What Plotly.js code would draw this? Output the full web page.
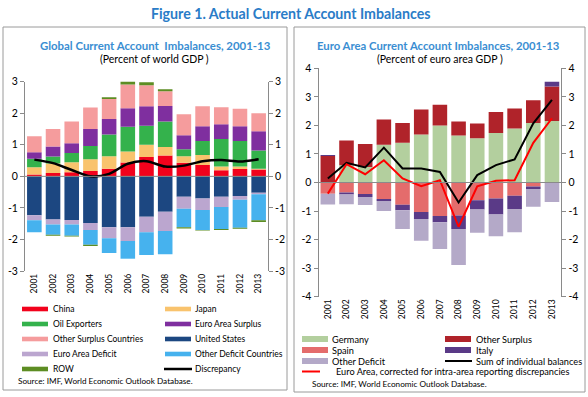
<!DOCTYPE html>
<html><head><meta charset="utf-8">
<script src="https://cdn.plot.ly/plotly-3.0.1.min.js"></script>
<style>html,body{margin:0;padding:0;background:#fff}#c{width:588px;height:397px}</style>
</head><body><div id="c"></div>
<script>
// ---------- DATA ----------
const years = ['2001','2002','2003','2004','2005','2006','2007','2008','2009','2010','2011','2012','2013'];

// Left panel: Global current account imbalances (% of world GDP)
const china        = [0.06,0.11,0.13,0.17,0.24,0.44,0.61,0.66,0.43,0.36,0.19,0.23,0.22];
const japan        = [0.23,0.30,0.32,0.37,0.40,0.35,0.39,0.27,0.21,0.32,0.12,0.08,0.02];
const oilExporters = [0.27,0.22,0.29,0.42,0.69,0.78,0.60,0.81,0.22,0.44,0.87,0.81,0.58];
const euroSurplus  = [0.20,0.32,0.31,0.54,0.49,0.59,0.62,0.49,0.44,0.47,0.47,0.47,0.61];
const otherSurplus = [0.51,0.55,0.69,0.68,0.63,0.75,0.67,0.47,0.67,0.63,0.54,0.55,0.57];
const unitedStates = [-1.23,-1.37,-1.38,-1.48,-1.61,-1.61,-1.28,-1.12,-0.65,-0.70,-0.65,-0.62,-0.52];
const euroDeficit  = [-0.16,-0.16,-0.15,-0.22,-0.35,-0.44,-0.49,-0.61,-0.38,-0.37,-0.32,-0.12,-0.05];
const otherDeficit = [-0.38,-0.32,-0.35,-0.47,-0.47,-0.56,-0.72,-0.74,-0.58,-0.63,-0.70,-0.89,-0.82];
const rowBalance   = [0.00,-0.03,-0.03,-0.04,0.06,0.12,0.09,0.06,-0.04,-0.02,-0.03,-0.03,-0.06];
const discrepancy  = [0.53,0.42,0.20,0.00,0.08,0.40,0.48,0.31,0.34,0.48,0.52,0.47,0.54];

// Right panel: Euro area current account imbalances (% of euro area GDP)
const germany       = [0.00,0.60,0.54,1.32,1.39,1.68,2.00,1.65,1.55,1.73,1.89,2.08,2.15];
const spain         = [-0.39,-0.35,-0.40,-0.58,-0.78,-1.03,-1.17,-1.16,-0.62,-0.56,-0.46,-0.14,0.00];
const eaOtherSurplus= [0.93,0.87,0.81,0.89,0.69,0.88,0.72,0.49,0.52,0.74,0.70,0.80,1.21];
const italy         = [0.03,-0.07,-0.11,-0.07,-0.19,-0.25,-0.22,-0.47,-0.33,-0.56,-0.47,-0.09,0.17];
const eaOtherDeficit= [-0.38,-0.34,-0.28,-0.35,-0.66,-0.76,-0.94,-1.26,-0.81,-0.76,-0.81,-0.62,-0.68];
const sumBalances   = [0.14,0.69,0.53,1.22,0.49,0.49,0.37,-0.70,0.26,0.61,0.81,2.07,2.89];
const corrected     = [-0.39,0.64,0.29,0.78,0.14,-0.13,0.08,-1.55,-0.13,0.06,0.08,1.39,2.25];

const leftNames  = ['China','Japan','Oil Exporters','Euro Area Surplus','Other Surplus Countries','United States','Euro Area Deficit','Other Deficit Countries','ROW','Discrepancy'];
const rightNames = ['Germany','Other Surplus','Spain','Italy','Other Deficit','Sum of individual balances','Euro Area, corrected for intra-area reporting discrepancies'];

const leftTicks  = [-3,-2,-1,0,1,2,3];
const rightTicks = [-4,-3,-2,-1,0,1,2,3,4];

// ---------- STYLE ----------
const FONT = 'Lato, "Open Sans", sans-serif';
const W = 588, H = 397;
const px = x => x / W, py = y => 1 - y / H;
const C = {
  China:'#f2021c', Japan:'#f9c36d', Oil:'#34b24c', EAS:'#7f2f9f', OS:'#f59c9d',
  US:'#1c4781', EAD:'#bba6cf', ODC:'#46b2ee', ROW:'#5d8d23',
  Germany:'#b3cf9e', EOS:'#b0232a', Spain:'#e46c6c', Italy:'#5a3a87', EOD:'#b4a9c8'
};

function bar(y, name, color, xa, ya){
  return {type:'bar', x:years, y:y, name:name, xaxis:xa, yaxis:ya,
          marker:{color:color, line:{width:0}}, showlegend:false, hoverinfo:'y+name'};
}
const traces = [
  bar(china, leftNames[0], C.China,'x','y'),
  bar(japan, leftNames[1], C.Japan,'x','y'),
  bar(oilExporters, leftNames[2], C.Oil,'x','y'),
  bar(euroSurplus, leftNames[3], C.EAS,'x','y'),
  bar(otherSurplus, leftNames[4], C.OS,'x','y'),
  bar(unitedStates, leftNames[5], C.US,'x','y'),
  bar(euroDeficit, leftNames[6], C.EAD,'x','y'),
  bar(otherDeficit, leftNames[7], C.ODC,'x','y'),
  bar(rowBalance, leftNames[8], C.ROW,'x','y'),
  {type:'scatter', mode:'lines', x:years, y:discrepancy, name:leftNames[9], xaxis:'x', yaxis:'y3',
   line:{color:'#000', width:2.5, shape:'spline', smoothing:0.8}, showlegend:false},
  bar(germany, rightNames[0], C.Germany,'x2','y2'),
  bar(spain, rightNames[2], C.Spain,'x2','y2'),
  bar(eaOtherSurplus, rightNames[1], C.EOS,'x2','y2'),
  bar(italy, rightNames[3], C.Italy,'x2','y2'),
  bar(eaOtherDeficit, rightNames[4], C.EOD,'x2','y2'),
  {type:'scatter', mode:'lines', x:years, y:sumBalances, name:rightNames[5], xaxis:'x2', yaxis:'y4',
   line:{color:'#000', width:2}, showlegend:false},
  {type:'scatter', mode:'lines', x:years, y:corrected, name:rightNames[6], xaxis:'x2', yaxis:'y4',
   line:{color:'#ff0000', width:2}, showlegend:false}
];

const tickFont = {family:FONT, size:10.5, color:'#000'};
const xBase = {type:'category', showline:false, ticks:'', showgrid:false, zeroline:false,
  tickangle:-90, tickfont:{family:FONT, size:8.5, color:'#000'}, fixedrange:true};
function yAx(range, ticks, extra){
  return Object.assign({range:range, tickvals:ticks, ticktext:ticks.map(String), showgrid:false,
    zeroline:false, showline:true, linecolor:'#8a8a8a', linewidth:1, ticks:'outside', ticklen:4,
    tickcolor:'#8a8a8a', tickfont:tickFont, fixedrange:true}, extra);
}

const L = {x0:25, x1:268, y0:81.7, y1:271};
const R = {x0:318.5, x1:561.3, y0:68.3, y1:296.7};

const shapes = [
  // panel boxes
  {type:'rect', xref:'paper', yref:'paper', x0:px(3), x1:px(287), y0:py(390), y1:py(27), line:{color:'#9a9a9a', width:1}},
  {type:'rect', xref:'paper', yref:'paper', x0:px(294), x1:px(585), y0:py(392), y1:py(27), line:{color:'#9a9a9a', width:1}},
  // zero lines
  {type:'line', xref:'x domain', yref:'y', x0:0, x1:1, y0:0, y1:0, line:{color:'#8a8a8a', width:1}, layer:'above'},
  {type:'line', xref:'x2 domain', yref:'y2', x0:0, x1:1, y0:0, y1:0, line:{color:'#8a8a8a', width:1}, layer:'above'}
];
const annotations = [
  {text:'<b>Figure 1. Actual Current Account Imbalances</b>', x:px(290), y:py(13), font:{family:FONT, size:14.2, color:'#2a7cc7'}},
  {text:'<b>Global Current Account  Imbalances, 2001-13</b>', x:px(155), y:py(45), font:{family:FONT, size:11.4, color:'#3a8ed2'}},
  {text:'(Percent of world GDP )', x:px(154), y:py(59), font:{family:FONT, size:10.5, color:'#000'}},
  {text:'<b>Euro Area Current Account Imbalances, 2001-13</b>', x:px(438), y:py(45), font:{family:FONT, size:11.3, color:'#3a8ed2'}},
  {text:'(Percent of euro area GDP )', x:px(440), y:py(59), font:{family:FONT, size:10.5, color:'#000'}},
  {text:'Source: IMF, World Economic Outlook Database.', x:px(16), y:py(381), xanchor:'left', font:{family:FONT, size:8.2, color:'#000'}},
  {text:'Source: IMF, World Economic Outlook Database.', x:px(310), y:py(384), xanchor:'left', font:{family:FONT, size:8.2, color:'#000'}}
].map(a => Object.assign({xref:'paper', yref:'paper', showarrow:false, xanchor:'center', yanchor:'middle'}, a));

// left legend (manual)
const leftLegend = [
  [leftNames[0], C.China, 0, 309], [leftNames[1], C.Japan, 1, 309],
  [leftNames[2], C.Oil, 0, 324],   [leftNames[3], C.EAS, 1, 324],
  [leftNames[4], C.OS, 0, 339],    [leftNames[5], C.US, 1, 339],
  [leftNames[6], C.EAD, 0, 354],   [leftNames[7], C.ODC, 1, 354],
  [leftNames[8], C.ROW, 0, 369],   [leftNames[9], '#000', 1, 369, true]
];
leftLegend.forEach(([name, col, c, y, isLine]) => {
  const sx = c ? 165 : 22, tx = c ? 193 : 51;
  if (isLine) shapes.push({type:'line', xref:'paper', yref:'paper', x0:px(164), x1:px(192), y0:py(y), y1:py(y), line:{color:'#000', width:2.5}});
  else shapes.push({type:'rect', xref:'paper', yref:'paper', x0:px(sx), x1:px(sx+26), y0:py(y+2.3), y1:py(y-2.3), fillcolor:col, line:{width:0}});
  annotations.push({xref:'paper', yref:'paper', showarrow:false, text:name, x:px(tx), y:py(y), xanchor:'left', yanchor:'middle', font:{family:FONT, size:8.5, color:'#000'}});
});
// right legend (manual)
const rightLegend = [
  [rightNames[0], C.Germany, 0, 339], [rightNames[1], C.EOS, 1, 339],
  [rightNames[2], C.Spain, 0, 350],   [rightNames[3], C.Italy, 1, 350],
  [rightNames[4], C.EOD, 0, 361],     [rightNames[5], '#000', 1, 361, 'line'],
  [rightNames[6], '#ff0000', 0, 371.5, 'line']
];
rightLegend.forEach(([name, col, c, y, isLine]) => {
  const sx = c ? 445 : 302, tx = c ? 474 : (isLine ? 334 : 330);
  if (isLine) shapes.push({type:'line', xref:'paper', yref:'paper', x0:px(sx), x1:px(c ? 472 : 320), y0:py(y), y1:py(y), line:{color:col, width:2}});
  else shapes.push({type:'rect', xref:'paper', yref:'paper', x0:px(sx), x1:px(sx+26), y0:py(y+3), y1:py(y-3), fillcolor:col, line:{width:0}});
  annotations.push({xref:'paper', yref:'paper', showarrow:false, text:name, x:px(tx), y:py(y), xanchor:'left', yanchor:'middle', font:{family:FONT, size:9.2, color:'#000'}});
});

const layout = {
  width:W, height:H, margin:{l:0, r:0, t:0, b:0}, paper_bgcolor:'#fff', plot_bgcolor:'rgba(0,0,0,0)',
  barmode:'relative', bargap:0.22, showlegend:false, font:{family:FONT},
  xaxis: Object.assign({}, xBase, {domain:[px(L.x0), px(L.x1)], anchor:'y'}),
  yaxis: yAx([-3,3], leftTicks, {domain:[py(L.y1), py(L.y0)], anchor:'x', side:'left'}),
  yaxis3: yAx([-3,3], leftTicks, {overlaying:'y', anchor:'x', side:'right'}),
  xaxis2: Object.assign({}, xBase, {domain:[px(R.x0), px(R.x1)], anchor:'y2'}),
  yaxis2: yAx([-4,4], rightTicks, {domain:[py(R.y1), py(R.y0)], anchor:'x2', side:'left'}),
  yaxis4: yAx([-4,4], rightTicks, {overlaying:'y2', anchor:'x2', side:'right'}),
  shapes:shapes, annotations:annotations
};
Plotly.newPlot('c', traces, layout, {displayModeBar:false, staticPlot:true});
</script></body></html>
